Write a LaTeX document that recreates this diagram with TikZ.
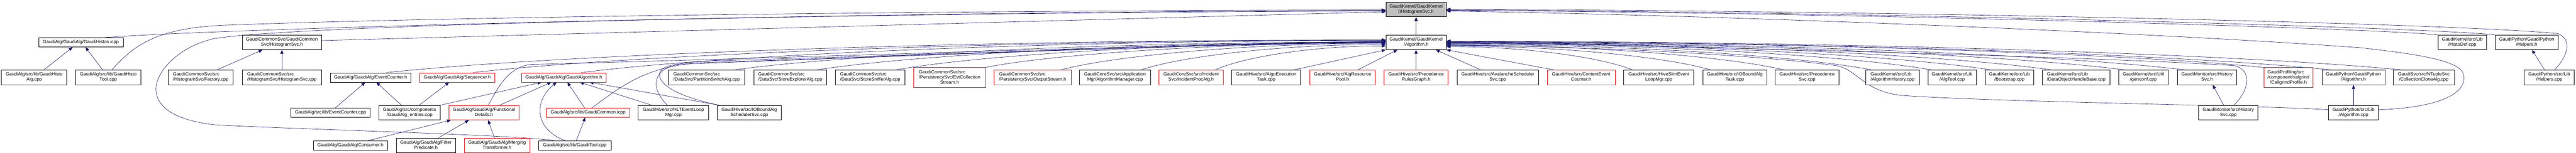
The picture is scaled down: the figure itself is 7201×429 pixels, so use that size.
\documentclass[tikz,border=0pt]{standalone}
\usepackage{fontspec}
\setmainfont{Liberation Sans}
\usetikzlibrary{arrows.meta,calc}
\definecolor{edgecol}{HTML}{191970}
\definecolor{topgray}{HTML}{BFBFBF}
\newcommand\nf{\fontsize{13}{14.2}\selectfont}
\newcommand\twol[2]{\begin{tabular}{@{}l@{}}#1\\\multicolumn{1}{@{}c@{}}{#2}\end{tabular}}
\newcommand\threel[3]{\begin{tabular}{@{}l@{}}#1\\#2\\\multicolumn{1}{@{}c@{}}{#3}\end{tabular}}
\pgfdeclarelayer{bg}\pgfsetlayers{bg,main}
\tikzset{
 box/.style={draw=black, line width=1pt, fill=white, rectangle, inner sep=0pt, align=center, font=\nf},
 redbox/.style={box, draw=red},
 wh/.style 2 args={minimum width=#1pt, minimum height=#2pt},
 e/.style={draw=edgecol, line width=0.9pt, -{Triangle[length=11pt,width=9pt]}},
}
\newcommand\algedge[3]{%
 \path ($(#1.north)+(#2,0)$) coordinate (s) #3 coordinate (t)
  ($(s)!0.15!(t)$) coordinate (ma) ($(s)!0.5!(t)$) coordinate (mb) ($(s)!0.55!(t)$) coordinate (mc);
 \draw[e] (s) .. controls (ma |- mb) and (mc |- t) .. (t);}
\begin{document}
\begin{tikzpicture}[x=1pt,y=-1pt]
\useasboundingbox (0,0) rectangle (7201,429);
% row 1
\node[box, fill=topgray, wh={169}{40.5}] (ihist) at (3958.5,27) {\twol{GaudiKernel/GaudiKernel}{/IHistogramSvc.h}};
% row 2
\node[box, wh={236}{26}] (histosicpp) at (226,118.8) {GaudiAlg/GaudiAlg/GaudiHistos.icpp};
\node[box, wh={222}{41}] (histsvch) at (788,118.8) {\twol{GaudiCommonSvc/GaudiCommon}{Svc/HistogramSvc.h}};
\node[box, wh={169}{41}] (algh) at (3958.5,118.8) {\twol{GaudiKernel/GaudiKernel}{/Algorithm.h}};
\node[box, wh={136}{41}] (histodef) at (6883,118.8) {\twol{GaudiKernel/src/Lib}{/HistoDef.cpp}};
\node[box, wh={176}{41}] (helpersh) at (7063,118.8) {\twol{GaudiPython/GaudiPython}{/Helpers.h}};
% row 3
\node[box, wh={183}{41}] (histoalg) at (95.5,217.3) {\twol{GaudiAlg/src/lib/GaudiHisto}{Alg.cpp}};
\node[box, wh={183}{41}] (histotool) at (302.5,217.3) {\twol{GaudiAlg/src/lib/GaudiHisto}{Tool.cpp}};
\node[box, wh={182}{41}] (factory) at (561,217.3) {\twol{GaudiCommonSvc/src}{/HistogramSvc/Factory.cpp}};
\node[box, wh={222}{41}] (histsvccpp) at (788,217.3) {\twol{GaudiCommonSvc/src}{/HistogramSvc/HistogramSvc.cpp}};
\node[box, wh={226}{26}] (evcnth) at (1036,217.3) {GaudiAlg/GaudiAlg/EventCounter.h};
\node[redbox, wh={210}{26}] (seqh) at (1278,217.3) {GaudiAlg/GaudiAlg/Sequencer.h};
\node[redbox, wh={236}{26}] (galgh) at (1576,217.3) {GaudiAlg/GaudiAlg/GaudiAlgorithm.h};
\node[box, wh={213}{41}] (partsw) at (1975.5,217.3) {\twol{GaudiCommonSvc/src}{/DataSvc/PartitionSwitchAlg.cpp}};
\node[box, wh={204}{41}] (storeexp) at (2209,217.3) {\twol{GaudiCommonSvc/src}{/DataSvc/StoreExplorerAlg.cpp}};
\node[box, wh={195}{41}] (storesnf) at (2432.5,217.3) {\twol{GaudiCommonSvc/src}{/DataSvc/StoreSnifferAlg.cpp}};
\node[redbox, wh={201}{56}] (evtcol) at (2654.5,217.8) {\threel{GaudiCommonSvc/src}{/PersistencySvc/EvtCollection}{Stream.h}};
\node[redbox, wh={215}{41}] (outstr) at (2886.5,217.3) {\twol{GaudiCommonSvc/src}{/PersistencySvc/OutputStream.h}};
\node[box, wh={198}{41}] (algmgr) at (3117,217.3) {\twol{GaudiCoreSvc/src/Application}{Mgr/AlgorithmManager.cpp}};
\node[redbox, wh={179}{41}] (incproc) at (3329.5,217.3) {\twol{GaudiCoreSvc/src/Incident}{Svc/IncidentProcAlg.h}};
\node[box, wh={193}{41}] (algoexec) at (3539.5,217.3) {\twol{GaudiHive/src/AlgoExecution}{Task.cpp}};
\node[redbox, wh={184}{41}] (algres) at (3753,217.3) {\twol{GaudiHive/src/AlgResource}{Pool.h}};
\node[redbox, wh={179}{41}] (precrg) at (3958.5,217.3) {\twol{GaudiHive/src/Precedence}{RulesGraph.h}};
\node[box, wh={228}{41}] (avalanche) at (4187,217.3) {\twol{GaudiHive/src/AvalancheScheduler}{Svc.cpp}};
\node[redbox, wh={190}{41}] (ctxevt) at (4420,217.3) {\twol{GaudiHive/src/ContextEvent}{Counter.h}};
\node[box, wh={196}{41}] (hiveslim) at (4637,217.3) {\twol{GaudiHive/src/HiveSlimEvent}{LoopMgr.cpp}};
\node[box, wh={179}{41}] (ioalgtask) at (4849.5,217.3) {\twol{GaudiHive/src/IOBoundAlg}{Task.cpp}};
\node[box, wh={179}{41}] (precsvc) at (5051.5,217.3) {\twol{GaudiHive/src/Precedence}{Svc.cpp}};
\node[box, wh={149}{41}] (alghist) at (5290.5,217.3) {\twol{GaudiKernel/src/Lib}{/AlgorithmHistory.cpp}};
\node[box, wh={136}{41}] (algtool) at (5457,217.3) {\twol{GaudiKernel/src/Lib}{/AlgTool.cpp}};
\node[box, wh={136}{41}] (bootstrap) at (5617,217.3) {\twol{GaudiKernel/src/Lib}{/Bootstrap.cpp}};
\node[box, wh={188}{41}] (dohb) at (5804,217.3) {\twol{GaudiKernel/src/Lib}{/DataObjectHandleBase.cpp}};
\node[box, wh={139}{41}] (genconf) at (5991.5,217.3) {\twol{GaudiKernel/src/Util}{/genconf.cpp}};
\node[box, wh={167}{41}] (histsvch2) at (6169.5,217.3) {\twol{GaudiMonitor/src/History}{Svc.h}};
\node[redbox, wh={138}{56}] (callgrind) at (6397,217.8) {\threel{GaudiProfiling/src}{/component/valgrind}{/CallgrindProfile.h}};
\node[box, wh={176}{41}] (gpalgh) at (6579,217.3) {\twol{GaudiPython/GaudiPython}{/Algorithm.h}};
\node[box, wh={171}{41}] (cclone) at (6775.5,217.3) {\twol{GaudiSvc/src/NTupleSvc}{/CollectionCloneAlg.cpp}};
\node[box, wh={140}{41}] (helperscpp) at (7126,217.3) {\twol{GaudiPython/src/Lib}{/Helpers.cpp}};
% row 4
\node[box, wh={222}{26}] (evcntcpp) at (924,315.9) {GaudiAlg/src/lib/EventCounter.cpp};
\node[box, wh={172}{41}] (entries) at (1145,315.9) {\twol{GaudiAlg/src/components}{/GaudiAlg\_entries.cpp}};
\node[redbox, wh={196}{41}] (funcdet) at (1353,315.9) {\twol{GaudiAlg/GaudiAlg/Functional}{Details.h}};
\node[redbox, wh={234}{26}] (gcommon) at (1644,315.9) {GaudiAlg/src/lib/GaudiCommon.icpp};
\node[box, wh={197}{41}] (hltevt) at (1882.5,315.9) {\twol{GaudiHive/src/HLTEventLoop}{Mgr.cpp}};
\node[box, wh={179}{41}] (ioschsvc) at (2094.5,315.9) {\twol{GaudiHive/src/IOBoundAlg}{SchedulerSvc.cpp}};
\node[box, wh={166}{41}] (histsvccpp2) at (6229,315.9) {\twol{GaudiMonitor/src/History}{Svc.cpp}};
\node[box, wh={140}{41}] (gpalgcpp) at (6579,315.9) {\twol{GaudiPython/src/Lib}{/Algorithm.cpp}};
% row 5
\node[box, wh={207}{26}] (consumer) at (979.5,408) {GaudiAlg/GaudiAlg/Consumer.h};
\node[box, wh={165}{41}] (filterpred) at (1190.5,408) {\twol{GaudiAlg/GaudiAlg/Filter}{Predicate.h}};
\node[redbox, wh={183}{41}] (merging) at (1389.5,408) {\twol{GaudiAlg/GaudiAlg/Merging}{Transformer.h}};
\node[box, wh={203}{26}] (gtoolcpp) at (1606.5,408) {GaudiAlg/src/lib/GaudiTool.cpp};

\begin{pgfonlayer}{bg}
% into IHistogramSvc.h
\draw[e] (algh.north) -- (ihist.south);
\draw[e] ($(histsvch.east)+(0,-5)$) -- ($(ihist.west)+(0,6)$);
\draw[e] ($(histosicpp.north)+(67,0)$) .. controls (600,80) and (2500,30) .. ($(ihist.west)+(0,3)$);
\draw[e] ($(histotool.north)+(10,0)$) .. controls (375,125) and (440,80) .. (620,71) .. controls (1300,45) and (2800,29) .. ($(ihist.west)+(0,1)$);
\draw[e] ($(gtoolcpp.north)+(-58,0)$) .. controls (1450,378) and (800,362) .. (600,350) .. controls (470,335) and (436,290) .. (436,250) .. controls (436,200) and (500,130) .. (600,108) .. controls (900,62) and (2800,33) .. ($(ihist.west)+(0,4)$);
\draw[e] (histodef.north west) .. controls (6650,80) and (5200,36) .. ($(ihist.east)+(0,2)$);
\draw[e] (helpersh.north west) .. controls (6800,78) and (5300,34) .. ($(ihist.east)+(0,1)$);
\draw[e] ($(helperscpp.north)+(15,0)$) .. controls (7180,155) and (7190,110) .. (7150,94) .. controls (6800,62) and (5200,30) .. ($(ihist.east)+(0,-1)$);
\draw[e] ($(gpalgcpp.east)+(0,-8)$) .. controls (6850,300) and (6900,250) .. (6885,205) .. controls (6870,165) and (6720,148) .. (6600,134) .. controls (6000,90) and (4800,42) .. ($(ihist.east)+(0,4)$);
% into Algorithm.h, left side
\algedge{evcnth}{44}{($(algh.west)+(0,-7)$)}
\algedge{seqh}{44}{($(algh.west)+(0,-6)$)}
\algedge{galgh}{49}{($(algh.west)+(0,-5)$)}
\algedge{partsw}{76}{($(algh.west)+(0,-1)$)}
\algedge{storeexp}{73}{($(algh.west)+(0,0)$)}
\algedge{storesnf}{71}{($(algh.west)+(0,1)$)}
\algedge{evtcol}{100}{($(algh.west)+(0,2)$)}
\algedge{outstr}{78}{($(algh.west)+(0,3)$)}
\algedge{algmgr}{72}{($(algh.west)+(0,6)$)}
\algedge{incproc}{67}{($(algh.west)+(0,10)$)}
\draw[e] ($(funcdet.north)+(12,0)$) .. controls (1395,240) and (1420,192) .. (1480,181) .. controls (2200,162) and (3200,128) .. ($(algh.west)+(0,-4)$);
\draw[e] ($(gcommon.north)+(11,0)$) .. controls (1740,240) and (1800,190) .. (1950,176) .. controls (2600,155) and (3300,126) .. ($(algh.west)+(0,-3)$);
\draw[e] ($(hltevt.north)+(-17,0)$) .. controls (1815,245) and (1825,192) .. (1900,180) .. controls (2600,155) and (3300,126) .. ($(algh.west)+(0,-2)$);
\draw[e] ($(ioschsvc.north west)+(5,0)$) .. controls (1850,262) and (1830,215) .. (1850,195) .. controls (1870,176) and (1950,172) .. (2050,169) .. controls (2700,150) and (3300,127) .. ($(algh.west)+(0,-1)$);
\draw[e] ($(algoexec.north)+(76,0)$) -- (algh.south west);
\draw[e] ($(algres.north)+(42,0)$) -- ($(algh.south)+(-52,0)$);
\draw[e] (precrg.north) -- (algh.south);
\draw[e] ($(avalanche.north)+(-47,0)$) -- ($(algh.south)+(55,0)$);
\draw[e] ($(ctxevt.north)+(-75,0)$) -- (algh.south east);
% into Algorithm.h, right side
\algedge{hiveslim}{-73}{($(algh.east)+(0,12)$)}
\algedge{ioalgtask}{-67}{($(algh.east)+(0,10)$)}
\algedge{precsvc}{-64}{($(algh.east)+(0,8)$)}
\algedge{alghist}{-58}{($(algh.east)+(0,6)$)}
\algedge{algtool}{-57}{($(algh.east)+(0,4)$)}
\algedge{bootstrap}{-51}{($(algh.east)+(0,3)$)}
\algedge{dohb}{-69}{($(algh.east)+(0,2)$)}
\algedge{genconf}{-51}{($(algh.east)+(0,1)$)}
\algedge{histsvch2}{-60}{($(algh.east)+(0,0)$)}
\algedge{callgrind}{-69}{($(algh.east)+(0,-1)$)}
\algedge{gpalgh}{-62}{($(algh.east)+(0,-2)$)}
\algedge{cclone}{-60}{($(algh.east)+(0,-3)$)}
\draw[e] ($(histsvccpp2.north)+(16,0)$) .. controls (6290,250) and (6295,195) .. (6245,184) .. controls (5800,155) and (4500,128) .. ($(algh.east)+(0,-4)$);
\draw[e] ($(gpalgcpp.west)+(0,-8)$) .. controls (6350,296) and (5600,287) .. (5320,268) .. controls (5215,258) and (5200,205) .. (5140,185) .. controls (4900,152) and (4400,128) .. ($(algh.east)+(0,8)$);
% local edges
\draw[e] ($(histoalg.north)+(27,0)$) -- ($(histosicpp.south)+(-23,0)$);
\draw[e] ($(histotool.north)+(-15.5,0)$) -- ($(histosicpp.south)+(13,0)$);
\draw[e] ($(factory.north)+(45,0)$) -- ($(histsvch.south)+(-54,0)$);
\draw[e] (histsvccpp.north) -- (histsvch.south);
\draw[e] ($(evcntcpp.north)+(13.5,0)$) -- ($(evcnth.south)+(-15,0)$);
\draw[e] ($(entries.north)+(-23,0)$) -- ($(evcnth.south)+(16,0)$);
\draw[e] ($(entries.north)+(27,0)$) -- ($(seqh.south)+(-22.5,0)$);
\draw[e] (entries.north east) -- ($(galgh.south)+(-62,0)$);
\draw[e] ($(funcdet.north)+(44,0)$) -- ($(galgh.south)+(-35,0)$);
\draw[e] ($(gtoolcpp.north)+(-27,0)$) .. controls (1495,362) and (1490,285) .. ($(galgh.south)+(-20,0)$);
\draw[e] ($(gcommon.north)+(-10,0)$) -- ($(galgh.south)+(10,0)$);
\draw[e] ($(hltevt.north)+(-61,0)$) -- ($(galgh.south)+(45,0)$);
\draw[e] ($(ioschsvc.north west)+(5,0)$) -- ($(galgh.south)+(72,0)$);
\draw[e] ($(consumer.north)+(49.5,0)$) -- ($(funcdet.south west)+(6,0)$);
\draw[e] ($(filterpred.north)+(34.5,0)$) -- ($(funcdet.south)+(-42,0)$);
\draw[e] ($(merging.north)+(-7.5,0)$) -- ($(funcdet.south)+(11.5,0)$);
\draw[e] ($(gtoolcpp.north)+(4.5,0)$) -- ($(gcommon.south)+(-8,0)$);
\draw[e] ($(histsvccpp2.north)+(-13,0)$) -- ($(histsvch2.south)+(16,0)$);
\draw[e] ($(helperscpp.north)+(-13,0)$) -- ($(helpersh.south)+(15,0)$);
\draw[e] (gpalgcpp.north) -- (gpalgh.south);
\end{pgfonlayer}
\end{tikzpicture}
\end{document}
